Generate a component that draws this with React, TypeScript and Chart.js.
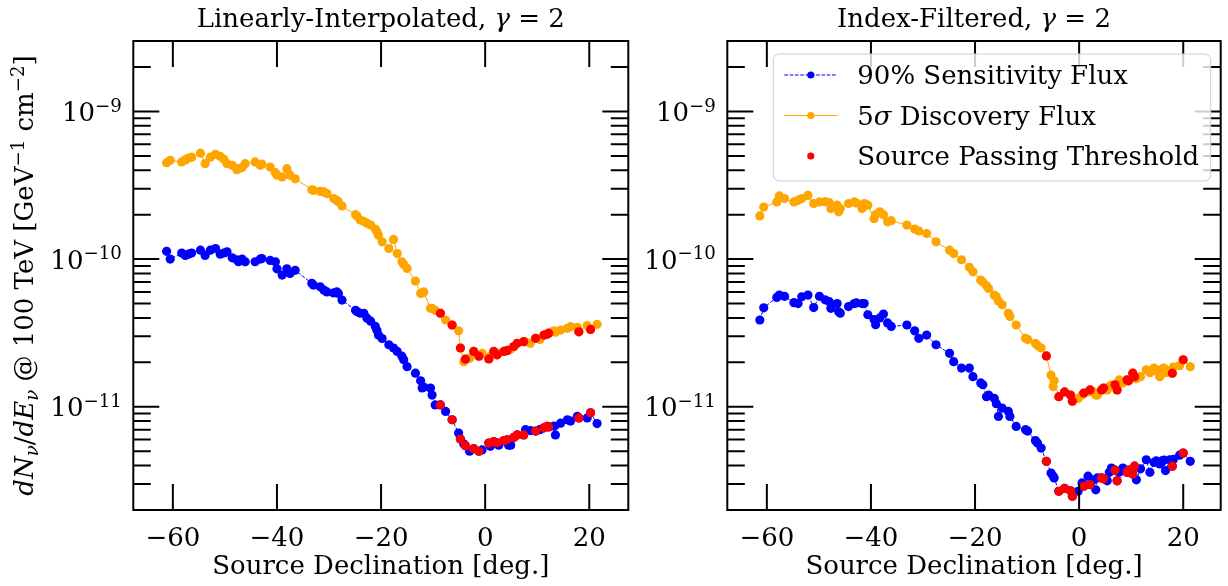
import React, { useEffect, useRef } from "react";
import { Chart, registerables } from "chart.js";
Chart.register(...registerables);

const FAMILY = "'DejaVu Serif', 'Liberation Serif', serif";
const BLUE = "#0000ff";
const ORANGE = "#ffa500";
const RED = "#ff0000";

// flux values are stored in units of 1e-12 GeV^-1 cm^-2
const UNIT = 1e-12;

const leftDecl = [
  -61.2, -60.5, -58.3, -57.6, -57.0, -56.4, -54.7, -53.8, -52.8, -51.8,
  -50.9, -50.2, -49.6, -48.6, -47.7, -47.4, -46.7, -46.1, -44.2, -43.2,
  -42.9, -41.3, -40.3, -40.0, -39.0, -38.1, -37.5, -36.5, -33.3, -33.0,
  -31.7, -31.0, -30.4, -29.1, -28.5, -28.2, -27.5, -24.9, -24.6, -24.0,
  -23.3, -22.7, -22.0, -21.1, -20.8, -20.5, -19.8, -18.5, -17.6, -16.9,
  -16.0, -15.65, -15.0, -13.4, -12.4, -12.1, -11.8, -10.5, -10.2, -9.6,
  -8.6, -7.6, -6.35, -5.1, -4.75, -4.1, -3.8, -3.0, -2.2, -1.2,
  -0.6, 0.7, 1.0, 1.65, 2.3, 2.6, 3.6, 4.2, 4.5, 4.9,
  5.5, 6.15, 7.4, 7.75, 8.7, 9.7, 10.5, 11.3, 11.9, 12.2,
  13.2, 13.5, 14.5, 15.8, 16.4, 17.7, 18.0, 19.6, 20.25, 21.5,
];
const leftSens = [
  113, 100, 110, 106, 108, 110, 115, 106, 115, 118,
  108, 110, 112, 102, 99, 96, 100, 96, 96, 100,
  101, 98, 96, 86, 78, 86, 80, 84, 68.6, 66.7,
  65, 61.7, 60, 59, 60, 58.6, 52.8, 45, 44, 43,
  43, 39.8, 38, 35, 33, 30.6, 29, 26.3, 25, 23.7,
  22, 20.8, 18.7, 16.9, 15, 13.4, 13.6, 13.4, 12, 10.3,
  10.3, 9.3, 8.17, 6.64, 6.05, 5.6, 5.45, 5.0, 5.2, 5.0,
  5.1, 5.68, 5.4, 5.8, 5.7, 5.5, 5.9, 5.98, 5.5, 5.5,
  6.2, 6.45, 6.45, 7.0, 6.9, 6.85, 7.0, 7.2, 7.36, 7.3,
  7.4, 6.45, 7.75, 8.17, 8.0, 8.6, 8.4, 8.4, 9.1, 7.7,
];
const leftDisc = [
  450, 467, 455, 470, 484, 490, 522, 443, 490, 513,
  496, 475, 443, 432, 403, 410, 417, 443, 455, 432,
  440, 420, 385, 370, 360, 410, 370, 350, 295, 292,
  288, 285, 278, 257, 250, 245, 229, 200, 195, 184,
  180, 175, 170, 160, 153, 145, 131, 118, 136, 109,
  96, 92, 86.5, 71, 58.6, 59, 60, 46.4, 46.5, 45,
  43, 38.7, 35.8, 32.7, 25, 20.2, 21, 21.3, 23.7, 22,
  23, 21.1, 22, 23.7, 22.5, 23, 23.7, 24, 24.3, 24.5,
  25.6, 26.9, 27.6, 27.5, 26.9, 29.1, 28.5, 30.6, 31, 31.5,
  32.7, 32, 33.1, 34, 34.9, 34.5, 32.2, 35.5, 33.4, 36.2,
];
const leftPass = [
  0, 0, 0, 0, 0, 0, 0, 0, 0, 0,
  0, 0, 0, 0, 0, 0, 0, 0, 0, 0,
  0, 0, 0, 0, 0, 0, 0, 0, 0, 0,
  0, 0, 0, 0, 0, 0, 0, 0, 0, 0,
  0, 0, 0, 0, 0, 0, 0, 0, 0, 0,
  0, 0, 0, 0, 0, 0, 0, 0, 0, 0,
  1, 0, 1, 0, 1, 0, 1, 0, 1, 1,
  0, 1, 0, 1, 1, 0, 1, 1, 0, 0,
  1, 1, 1, 0, 0, 1, 0, 1, 1, 1,
  0, 0, 0, 0, 0, 0, 1, 0, 1, 0,
];

const rightDecl = [
  -61.35, -60.6, -58.1, -57.6, -56.6, -54.8, -54.0, -53.3, -52.1, -51.0,
  -49.9, -48.8, -48.0, -47.7, -46.5, -46.2, -45.9, -44.3, -43.2, -42.8,
  -41.7, -41.3, -40.6, -39.4, -39.1, -38.3, -37.6, -36.8, -36.1, -33.1,
  -31.6, -30.8, -29.3, -27.5, -24.9, -24.1, -22.6, -21.1, -20.4, -18.9,
  -18.5, -17.8, -17.4, -16.3, -15.9, -15.5, -14.8, -13.6, -13.3, -12.1,
  -10.3, -9.9, -8.4, -8.0, -7.3, -6.3, -5.4, -5.0, -4.8, -3.9,
  -2.8, -1.65, -1.3, -0.2, 0.55, 0.9, 1.7, 2.1, 2.8, 3.2,
  3.5, 4.3, 4.7, 5.4, 5.8, 6.2, 6.9, 7.3, 7.7, 8.4,
  9.2, 9.5, 10.3, 10.65, 11.0, 11.8, 12.9, 13.6, 14.4, 14.8,
  15.5, 15.9, 16.3, 16.6, 17.4, 17.9, 18.1, 19.3, 20.0, 21.35,
];
const rightSens = [
  38.7, 46.8, 55, 57.1, 56, 50.7, 50, 55.6, 57.1, 47,
  56, 53, 51.5, 46.4, 50, 44, 43, 47.7, 50, 50.5,
  50, 50, 42, 39, 36, 40, 42.5, 37, 35, 35.8,
  32.7, 29.1, 30.6, 26.3, 23, 20.2, 18.3, 18.3, 16, 14.5,
  14.1, 11.7, 12, 11.4, 10.5, 8.6, 9.8, 9.3, 8.6, 7.36,
  7.0, 6.85, 5.9, 5.68, 5.25, 4.27, 3.56, 3.4, 3.3, 2.68,
  2.8, 2.7, 2.48, 2.68, 3.05, 2.9, 3.39, 2.97, 3.2, 2.74,
  3.3, 3.3, 3.25, 3.15, 3.6, 3.85, 3.72, 3.15, 3.6, 3.85,
  3.6, 3.72, 3.5, 3.96, 3.2, 3.8, 4.38, 3.6, 4.2, 4.3,
  4.1, 4.3, 4.35, 3.7, 4.38, 3.96, 4.4, 4.7, 4.86, 4.27,
];
const rightDisc = [
  196, 225, 244, 268, 257, 244, 250, 257, 270, 238,
  244, 245, 241, 220, 232, 209, 220, 238, 244, 240,
  220, 238, 232, 188, 200, 209, 200, 179, 182, 170,
  160, 155, 149, 131, 115, 109, 99, 88, 82, 72,
  70, 66, 63.3, 57, 55.6, 52, 49, 43, 40.8, 35.8,
  29.1, 28.5, 26.9, 26, 25, 22.1, 16.4, 13.7, 15, 11.7,
  12.6, 12, 10.9, 11.4, 12, 12.4, 12.6, 13, 12.6, 12,
  12, 13, 13.4, 13, 13.7, 14, 14.1, 13, 15.2, 14.5,
  15.2, 15, 16.9, 16, 15.5, 16, 17.8, 17, 18.3, 17.5,
  16, 18, 18.3, 17, 17.5, 16.9, 18.6, 19, 20.8, 18.7,
];
const rightPass = [
  0, 0, 0, 0, 0, 0, 0, 0, 0, 0,
  0, 0, 0, 0, 0, 0, 0, 0, 0, 0,
  0, 0, 0, 0, 0, 0, 0, 0, 0, 0,
  0, 0, 0, 0, 0, 0, 0, 0, 0, 0,
  0, 0, 0, 0, 0, 0, 0, 0, 0, 0,
  0, 0, 0, 0, 0, 1, 0, 0, 0, 1,
  1, 1, 1, 0, 0, 1, 0, 1, 0, 0,
  0, 1, 1, 0, 0, 0, 1, 1, 0, 0,
  1, 1, 1, 1, 0, 0, 0, 0, 0, 0,
  0, 0, 0, 0, 0, 1, 0, 0, 1, 0,
];

const xTickValues = [-60, -40, -20, 0, 20];
const yDecades = [-11, -10, -9];
const Y_MIN = 2e-12;
const Y_MAX = 3e-9;
const panelTitles = ["Linearly-Interpolated, ", "Index-Filtered, "];
const gammaText = "\u03b3";
const gammaValue = " = 2";
const xAxisTitle = "Source Declination [deg.]";
const legendLabels = ["90% Sensitivity Flux", "5\u03c3 Discovery Flux", "Source Passing Threshold"];

type Seg = { t: string; it?: boolean; sc?: number; dy?: number };

function fontOf(s: Seg, size: number) {
  return `${s.it ? "italic " : ""}${(size * (s.sc ?? 1)).toFixed(2)}px ${FAMILY}`;
}

function rich(ctx: CanvasRenderingContext2D, segs: Seg[], size: number, x: number, y: number, align: "left" | "center" | "right") {
  const ws = segs.map((s) => {
    ctx.font = fontOf(s, size);
    return ctx.measureText(s.t).width;
  });
  const total = ws.reduce((a, b) => a + b, 0);
  let cx = align === "center" ? x - total / 2 : align === "right" ? x - total : x;
  ctx.textAlign = "left";
  ctx.textBaseline = "alphabetic";
  segs.forEach((s, i) => {
    ctx.font = fontOf(s, size);
    ctx.fillText(s.t, cx, y + (s.dy ?? 0) * size);
    cx += ws[i];
  });
}

const FS = 26;
const SUP = { sc: 0.7, dy: -0.36 };
const SUB = { sc: 0.7, dy: 0.2 };

type PanelProps = {
  decl: number[];
  sens: number[];
  disc: number[];
  pass: number[];
  title: string;
  xMin: number;
  xMax: number;
  left: number;
  width: number;
  areaLeft: number;
  areaRight: number;
  yTitle: boolean;
  legend: boolean;
};

function Panel(p: PanelProps) {
  const ref = useRef<HTMLCanvasElement>(null);
  useEffect(() => {
    const canvas = ref.current!;
    const sensPts = p.decl.map((x, i) => ({ x, y: p.sens[i] * UNIT }));
    const discPts = p.decl.map((x, i) => ({ x, y: p.disc[i] * UNIT }));
    const passPts: { x: number; y: number }[] = [];
    p.decl.forEach((x, i) => {
      if (p.pass[i]) {
        passPts.push({ x, y: p.sens[i] * UNIT });
        passPts.push({ x, y: p.disc[i] * UNIT });
      }
    });

    const decor = {
      id: "decor",
      afterDraw(chart: any) {
        const ctx: CanvasRenderingContext2D = chart.ctx;
        const a = chart.chartArea;
        const xs = chart.scales.x;
        const ys = chart.scales.y;
        ctx.save();
        ctx.strokeStyle = "#000";
        ctx.fillStyle = "#000";
        ctx.lineWidth = 2;
        ctx.lineCap = "butt";
        ctx.setLineDash([]);
        ctx.beginPath();
        xTickValues.forEach((v) => {
          const px = xs.getPixelForValue(v);
          ctx.moveTo(px, a.bottom);
          ctx.lineTo(px, a.bottom - 26);
          ctx.moveTo(px, a.top);
          ctx.lineTo(px, a.top + 26);
        });
        for (let e = -12; e <= -9; e++) {
          for (let m = 1; m <= 9; m++) {
            const v = m * Math.pow(10, e);
            if (v <= Y_MIN * 1.001 || v >= Y_MAX * 0.999) continue;
            const py = ys.getPixelForValue(v);
            const L = m === 1 ? 26 : 17.5;
            ctx.moveTo(a.left, py);
            ctx.lineTo(a.left + L, py);
            ctx.moveTo(a.right, py);
            ctx.lineTo(a.right - L, py);
          }
        }
        ctx.stroke();
        ctx.strokeRect(a.left, a.top, a.right - a.left, a.bottom - a.top);

        // y tick labels
        yDecades.forEach((e) => {
          const py = ys.getPixelForValue(Math.pow(10, e));
          rich(ctx, [{ t: "10" }, { t: "\u2212" + Math.abs(e), ...SUP }], FS, a.left - 11.5, py + 9.6, "right");
        });

        // title
        rich(ctx, [{ t: p.title }, { t: gammaText, it: true }, { t: gammaValue }], FS, (a.left + a.right) / 2, 27, "center");

        // x title
        rich(ctx, [{ t: xAxisTitle }], FS, (a.left + a.right) / 2, 574, "center");

        if (p.yTitle) {
          ctx.save();
          ctx.translate(33, (a.top + a.bottom) / 2);
          ctx.rotate(-Math.PI / 2);
          rich(
            ctx,
            [
              { t: "dN", it: true },
              { t: "\u03bd", it: true, ...SUB },
              { t: "/" },
              { t: "dE", it: true },
              { t: "\u03bd", it: true, ...SUB },
              { t: " @ 100 TeV [GeV" },
              { t: "\u22121", ...SUP },
              { t: " cm" },
              { t: "\u22122", ...SUP },
              { t: "]" },
            ],
            FS,
            0,
            0,
            "center"
          );
          ctx.restore();
        }

        if (p.legend) {
          const lx = a.left + 46;
          const ly = a.top + 13;
          const lw = a.right - 10 - lx;
          const lh = 127;
          ctx.beginPath();
          (ctx as any).roundRect(lx, ly, lw, lh, 6);
          ctx.fillStyle = "rgba(255,255,255,0.8)";
          ctx.fill();
          ctx.lineWidth = 1;
          ctx.strokeStyle = "#cccccc";
          ctx.stroke();
          const rows = [ly + 21, ly + 61.5, ly + 102];
          const hx0 = lx + 11;
          const hx1 = lx + 64;
          const hm = (hx0 + hx1) / 2;
          const tx = lx + 84;
          // row 1
          ctx.lineWidth = 1;
          ctx.strokeStyle = BLUE;
          ctx.setLineDash([3.7, 1.6]);
          ctx.beginPath();
          ctx.moveTo(hx0, rows[0]);
          ctx.lineTo(hx1, rows[0]);
          ctx.stroke();
          ctx.setLineDash([]);
          ctx.fillStyle = BLUE;
          ctx.beginPath();
          ctx.arc(hm, rows[0], 3.6, 0, Math.PI * 2);
          ctx.fill();
          // row 2
          ctx.strokeStyle = ORANGE;
          ctx.beginPath();
          ctx.moveTo(hx0, rows[1]);
          ctx.lineTo(hx1, rows[1]);
          ctx.stroke();
          ctx.fillStyle = ORANGE;
          ctx.beginPath();
          ctx.arc(hm, rows[1], 3.6, 0, Math.PI * 2);
          ctx.fill();
          // row 3
          ctx.fillStyle = RED;
          ctx.beginPath();
          ctx.arc(hm, rows[2], 3.6, 0, Math.PI * 2);
          ctx.fill();
          ctx.fillStyle = "#000";
          legendLabels.forEach((lab, i) => {
            const parts = lab.split("\u03c3");
            const segs: Seg[] =
              parts.length > 1 ? [{ t: parts[0] }, { t: "\u03c3", it: true }, { t: parts[1] }] : [{ t: lab }];
            rich(ctx, segs, FS, tx, rows[i] + 9, "left");
          });
        }
        ctx.restore();
      },
    };

    const chart = new Chart(canvas, {
      type: "scatter",
      data: {
        datasets: [
          {
            label: legendLabels[0],
            data: sensPts,
            showLine: true,
            borderColor: BLUE,
            borderWidth: 1,
            borderDash: [3.7, 1.6],
            pointRadius: 4.6,
            pointHoverRadius: 4.6,
            pointBackgroundColor: BLUE,
            pointBorderWidth: 0,
            order: 2,
          } as any,
          {
            label: legendLabels[1],
            data: discPts,
            showLine: true,
            borderColor: ORANGE,
            borderWidth: 1,
            pointRadius: 4.6,
            pointHoverRadius: 4.6,
            pointBackgroundColor: ORANGE,
            pointBorderWidth: 0,
            order: 1,
          } as any,
          {
            label: legendLabels[2],
            data: passPts,
            showLine: false,
            pointRadius: 4.6,
            pointHoverRadius: 4.6,
            pointBackgroundColor: RED,
            borderColor: RED,
            pointBorderWidth: 0,
            order: 0,
          } as any,
        ],
      },
      options: {
        animation: false,
        responsive: false,
        devicePixelRatio: 1,
        events: [],
        layout: { padding: { top: 41, right: p.width - p.areaRight, left: 0, bottom: 0 } },
        plugins: { legend: { display: false }, tooltip: { enabled: false }, title: { display: false } },
        scales: {
          x: {
            type: "linear",
            position: "bottom",
            min: p.xMin,
            max: p.xMax,
            grid: { display: false },
            border: { display: false },
            ticks: {
              autoSkip: false,
              maxRotation: 0,
              padding: 6,
              color: "#000",
              font: { family: FAMILY, size: FS },
              callback: (v: any) => (Number(v) < 0 ? "\u2212" + Math.abs(Number(v)) : String(v)),
            },
            afterBuildTicks: (s: any) => {
              s.ticks = xTickValues.map((v) => ({ value: v }));
            },
            afterFit: (s: any) => {
              s.height = 76;
            },
          },
          y: {
            type: "logarithmic",
            min: Y_MIN,
            max: Y_MAX,
            grid: { display: false },
            border: { display: false },
            ticks: { display: false },
            afterFit: (s: any) => {
              s.width = p.areaLeft;
            },
          },
        },
      } as any,
      plugins: [decor],
    });
    return () => chart.destroy();
  }, []);
  return (
    <canvas
      ref={ref}
      width={p.width}
      height={586}
      style={{ position: "absolute", left: p.left, top: 0, width: p.width, height: 586, display: "block" }}
    />
  );
}

export default function App() {
  return (
    <div style={{ position: "absolute", left: 0, top: 0, width: 1228, height: 586, background: "#fff", overflow: "hidden" }}>
      <Panel
        decl={leftDecl}
        sens={leftSens}
        disc={leftDisc}
        pass={leftPass}
        title={panelTitles[0]}
        xMin={-67.6}
        xMax={27.5}
        left={0}
        width={640}
        areaLeft={133.3}
        areaRight={628.3}
        yTitle={true}
        legend={false}
      />
      <Panel
        decl={rightDecl}
        sens={rightSens}
        disc={rightDisc}
        pass={rightPass}
        title={panelTitles[1]}
        xMin={-67.6}
        xMax={27.2}
        left={640}
        width={588}
        areaLeft={87.3}
        areaRight={580.7}
        yTitle={false}
        legend={true}
      />
    </div>
  );
}
